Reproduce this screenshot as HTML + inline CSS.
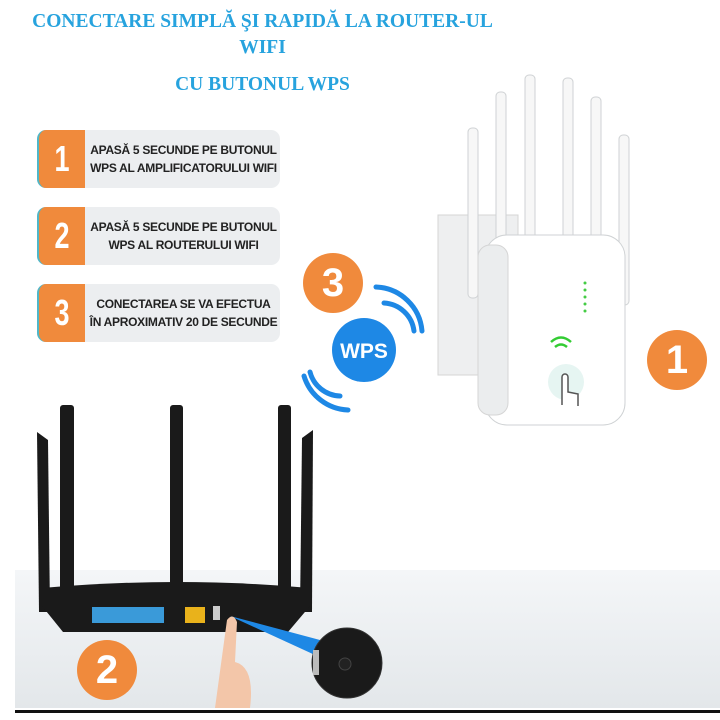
<!DOCTYPE html>
<html><head><meta charset="utf-8"><style>
body{margin:0;width:720px;height:720px;overflow:hidden;background:#fff;font-family:"Liberation Sans",sans-serif;position:relative}
.t{position:absolute;left:0;width:525px;text-align:center;color:#27a3de;font-family:"Liberation Serif",serif;font-weight:bold;font-size:19.5px}
.box{position:absolute;left:37px;width:243px;height:58px;background:#eceef0;border-radius:9px}
.num{position:absolute;left:0;top:0;width:48px;height:58px;background:#f08a3c;border-radius:9px 0 0 9px;border-left:2px solid #4fb7c8;box-sizing:border-box;color:#fff;font-size:36px;font-weight:bold;text-align:center;line-height:58px}
.num span{display:inline-block;transform:scaleX(.75)}
.txt{position:absolute;left:50px;right:0;top:0;height:58px;display:flex;align-items:center;justify-content:center;text-align:center;font-size:12px;font-weight:bold;color:#222;line-height:18px;letter-spacing:-.3px}
.oc{position:absolute;width:60px;height:60px;border-radius:50%;background:#f08a3c;color:#fff;font-weight:bold;font-size:40px;text-align:center;line-height:60px}
</style></head><body>
<div style="position:absolute;left:15px;top:570px;width:705px;height:138px;background:linear-gradient(#f4f6f8,#e3e7ea)"></div>
<div style="position:absolute;left:15px;top:710px;width:705px;height:3px;background:#111"></div>
<div class="t" style="top:11px">CONECTARE SIMPLĂ ŞI RAPIDĂ LA ROUTER-UL</div>
<div class="t" style="top:37px">WIFI</div>
<div class="t" style="top:74px">CU BUTONUL WPS</div>
<div class="box" style="top:130px"><div class="num"><span>1</span></div><div class="txt">APASĂ 5 SECUNDE PE BUTONUL<br>WPS AL AMPLIFICATORULUI WIFI</div></div>
<div class="box" style="top:207px"><div class="num"><span>2</span></div><div class="txt">APASĂ 5 SECUNDE PE BUTONUL<br>WPS AL ROUTERULUI WIFI</div></div>
<div class="box" style="top:284px"><div class="num"><span>3</span></div><div class="txt">CONECTAREA SE VA EFECTUA<br>ÎN APROXIMATIV 20 DE SECUNDE</div></div>
<svg width="720" height="720" style="position:absolute;left:0;top:0">
<rect x="438" y="215" width="80" height="160" fill="#eeeff0" stroke="#d5d5d5"/>
<g fill="#f7f7f7" stroke="#cfd2d4">
<rect x="468" y="128" width="10" height="170" rx="4"/><rect x="496" y="92" width="10" height="180" rx="4"/><rect x="525" y="75" width="10" height="180" rx="4"/>
<rect x="563" y="78" width="10" height="180" rx="4"/><rect x="591" y="97" width="10" height="180" rx="4"/><rect x="619" y="135" width="10" height="170" rx="4"/>
</g>
<rect x="485" y="235" width="140" height="190" rx="22" fill="#fff" stroke="#cfd2d4"/>
<rect x="478" y="245" width="30" height="170" rx="12" fill="#ebedee" stroke="#d5d5d5"/>
<g fill="#4c4"><circle cx="585" cy="283" r="1.5"/><circle cx="585" cy="290" r="1.5"/><circle cx="585" cy="297" r="1.5"/><circle cx="585" cy="304" r="1.5"/><circle cx="585" cy="311" r="1.5"/></g>
<path d="M551 342 q10 -9 20 0 M555 347 q6 -5 12 0" stroke="#3c3" stroke-width="2.5" fill="none"/>
<circle cx="566" cy="382" r="18" fill="#e6f5f2"/>
<path d="M562 405 v-28 a3 3 0 0 1 6 0 v15 l10 2 v12" stroke="#555" stroke-width="1.5" fill="#fff"/>
<circle cx="364" cy="350" r="32" fill="#1e88e5"/>
<text x="364" y="358" text-anchor="middle" fill="#fff" font-family="Liberation Sans" font-weight="bold" font-size="21">WPS</text>
<g stroke="#1e88e5" stroke-width="5" fill="none" stroke-linecap="round">
<path d="M384 303 a32 32 0 0 1 30 28"/><path d="M376 287 a48 48 0 0 1 46 44"/>
<path d="M340 396 a32 32 0 0 1 -30 -24"/><path d="M348 410 a48 48 0 0 1 -44 -34"/>
</g>
<g fill="#1a1a1a">
<polygon points="37,432 48,440 50,612 39,612"/><rect x="60" y="405" width="14" height="195" rx="3"/>
<rect x="170" y="405" width="13" height="200" rx="3"/><rect x="278" y="405" width="13" height="195" rx="3"/>
<polygon points="313,430 302,438 300,612 312,612"/>
<path d="M42 588 q135 -12 268 0 v18 l-22 26 h-225 l-21 -26z"/>
</g>
<rect x="92" y="607" width="72" height="16" fill="#3a9ad9"/>
<rect x="185" y="607" width="20" height="16" fill="#e9b21b"/>
<rect x="213" y="606" width="7" height="14" fill="#ccc"/>
<polygon points="230,616 320,640 315,655" fill="#1e88e5"/>
<circle cx="347" cy="663" r="35" fill="#1a1a1a" stroke="#333"/>
<circle cx="345" cy="664" r="6" fill="#222" stroke="#444"/>
<rect x="313" y="650" width="6" height="25" fill="#bbb"/>
<path d="M215 708 l12 -88 q6 -8 10 2 l-2 40 q20 5 15 46z" fill="#f3c6a9"/>
</svg>
<div class="oc" style="left:303px;top:253px">3</div>
<div class="oc" style="left:647px;top:330px">1</div>
<div class="oc" style="left:77px;top:640px">2</div>
</body></html>
